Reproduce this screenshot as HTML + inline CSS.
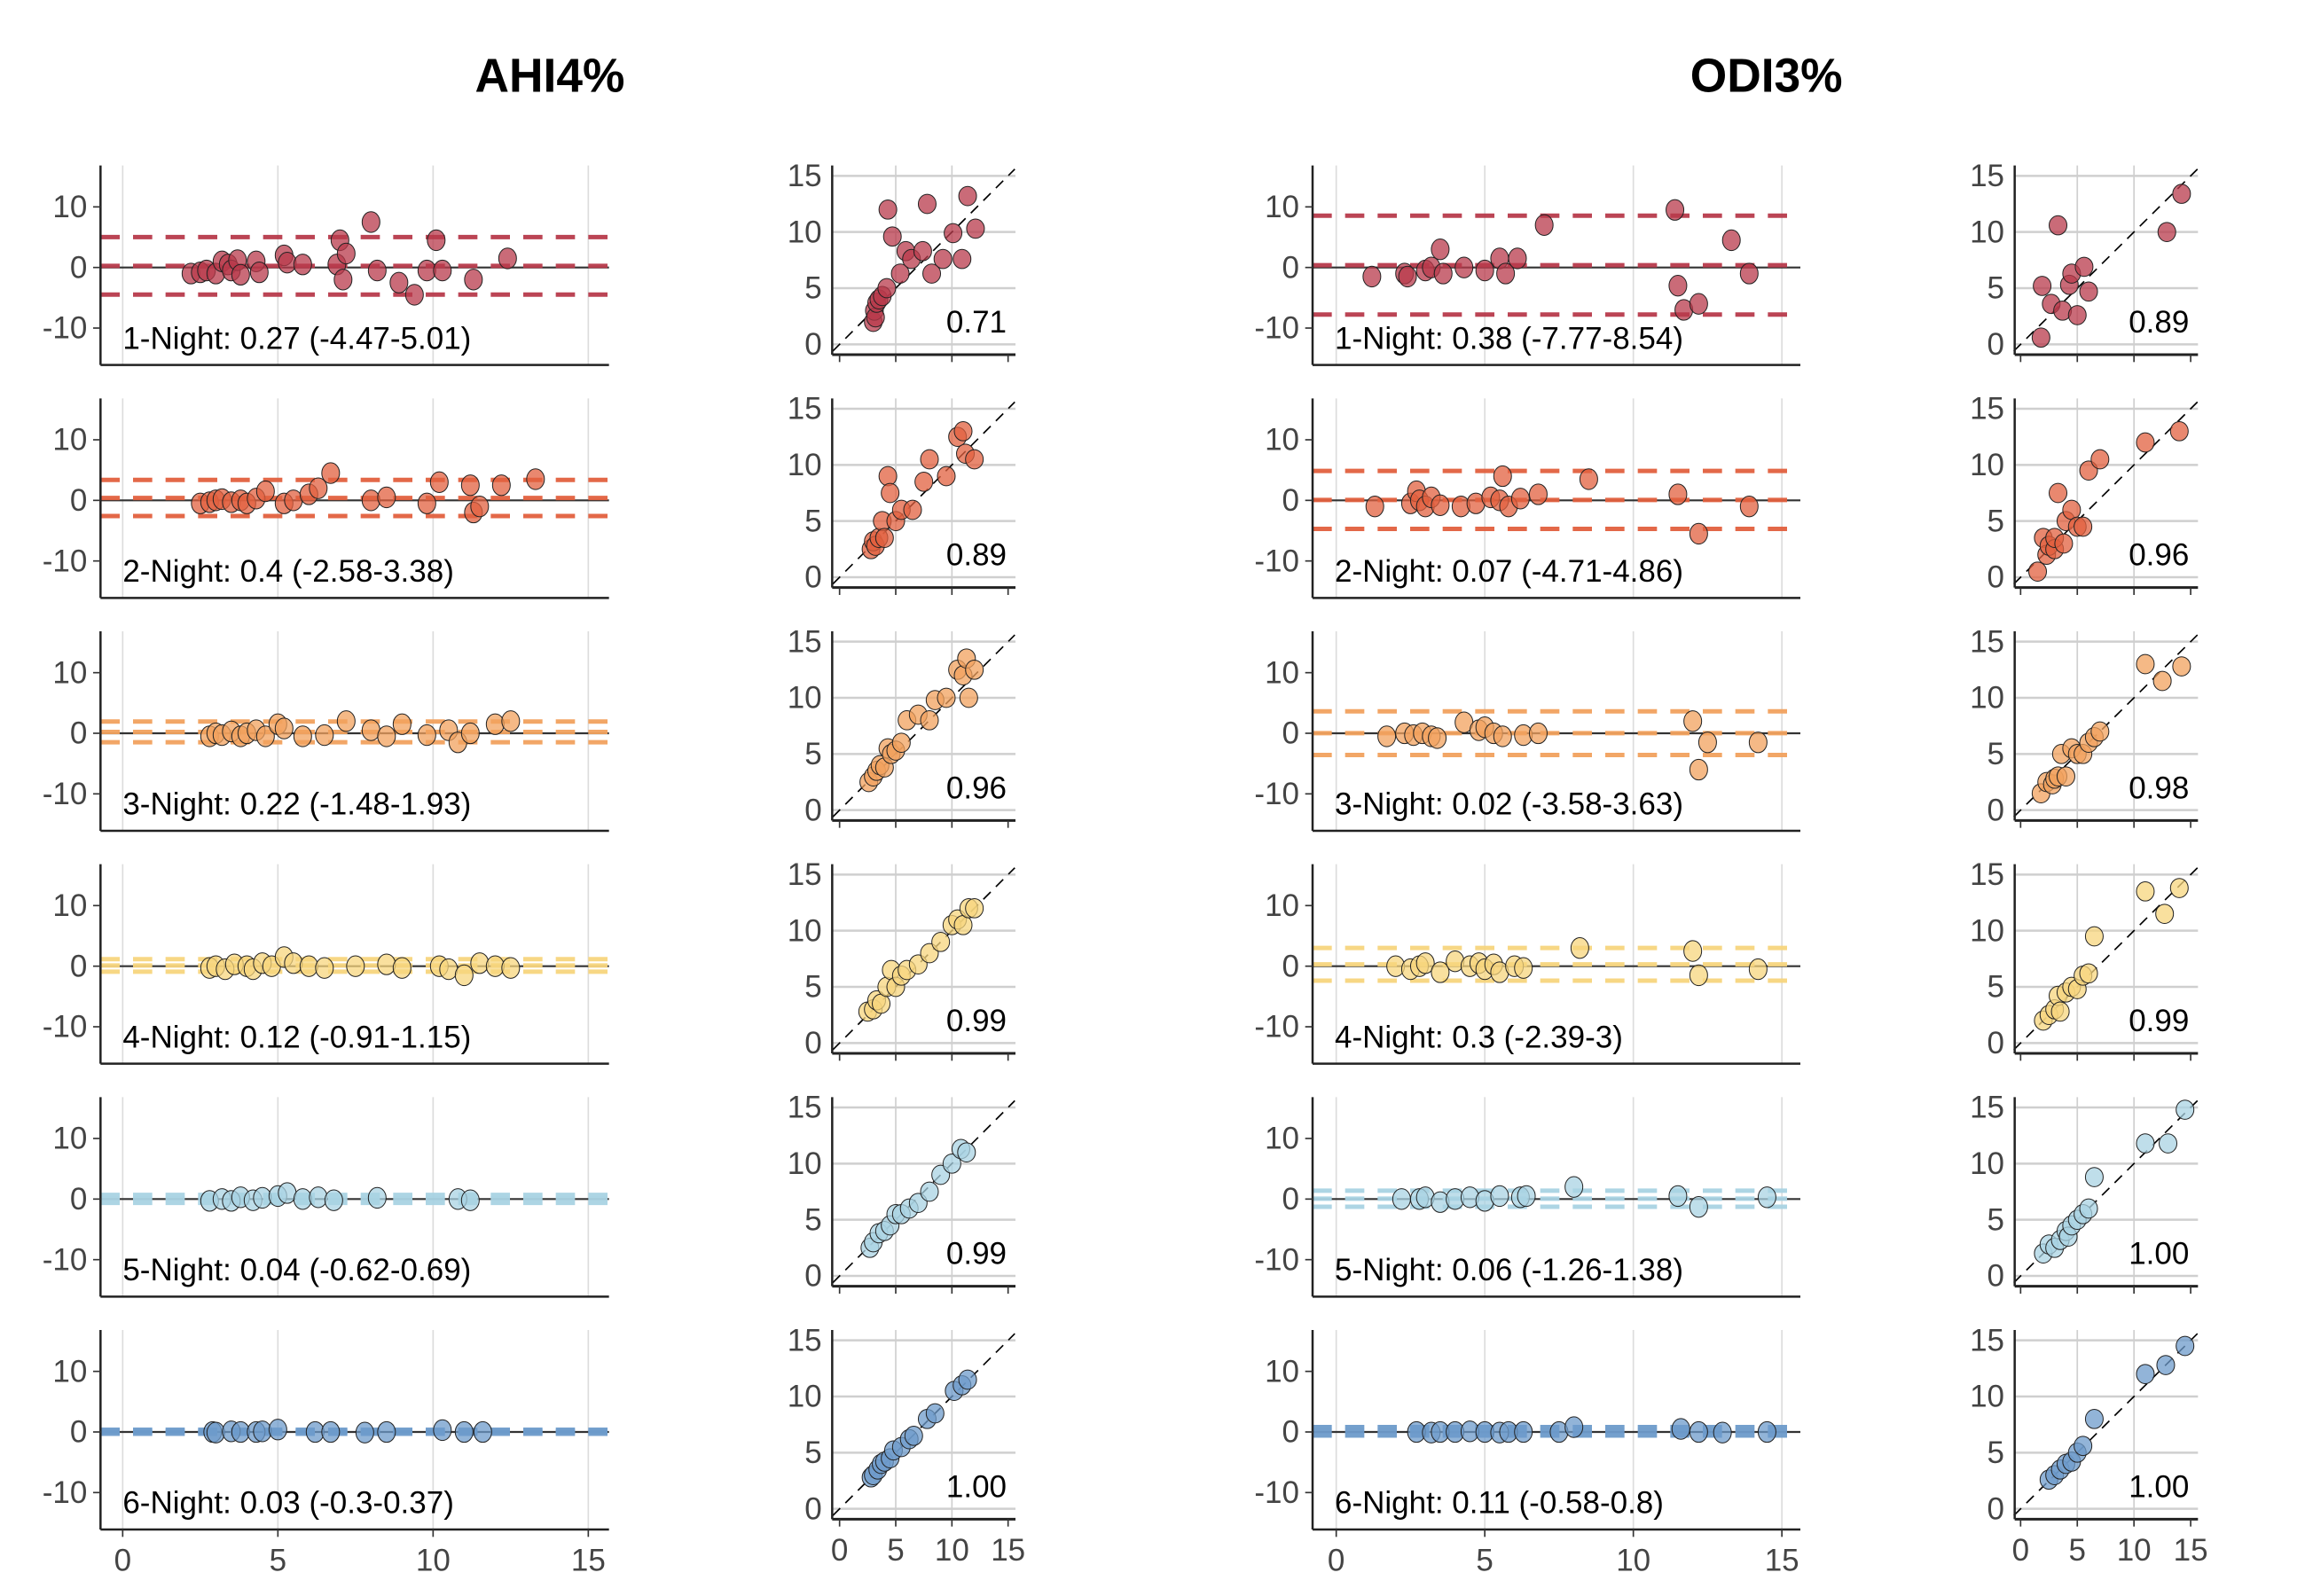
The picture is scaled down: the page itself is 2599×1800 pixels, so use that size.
<!DOCTYPE html>
<html><head><meta charset="utf-8"><style>
html,body{margin:0;padding:0;background:#fff;}
svg{display:block;font-family:"Liberation Sans",Arial,sans-serif;}
</style></head><body>
<svg id="chart" width="2599" height="1800" viewBox="0 0 1559.4 1080" xmlns="http://www.w3.org/2000/svg">
<text x="372" y="62" text-anchor="middle" font-size="32" font-weight="bold">AHI4%</text>
<text x="1195" y="62" text-anchor="middle" font-size="32" font-weight="bold">ODI3%</text>
<g id="plots"></g>
</svg>
<script>
const nightLabels = ["1-Night","2-Night","3-Night","4-Night","5-Night","6-Night"];
const rowColors = ["#b83a4b","#e2603f","#f2a25e","#f7d57e","#a9d3e3","#6d9bcb"];
const ahiMean = [0.27,0.4,0.22,0.12,0.04,0.03];
const ahiLo = [-4.47,-2.58,-1.48,-0.91,-0.62,-0.3];
const ahiHi = [5.01,3.38,1.93,1.15,0.69,0.37];
const odiMean = [0.38,0.07,0.02,0.3,0.06,0.11];
const odiLo = [-7.77,-4.71,-3.58,-2.39,-1.26,-0.58];
const odiHi = [8.54,4.86,3.63,3,1.38,0.8];
const ahiCorr = ["0.71","0.89","0.96","0.99","0.99","1.00"];
const odiCorr = ["0.89","0.96","0.98","0.99","1.00","1.00"];
const ahiBaX = [
 [2.2,2.5,2.7,3,3.2,3.4,3.5,3.7,3.8,4.3,4.4,5.2,5.3,5.8,6.9,7,7.2,7.1,8,8.2,8.9,9.4,9.8,10.1,10.3,11.3,12.4],
 [2.5,2.8,3,3.2,3.5,3.8,4,4.3,4.6,5.2,5.5,6,6.3,6.7,8,8.5,9.8,10.2,11.2,11.3,11.5,12.2,13.3],
 [2.8,3,3.2,3.5,3.8,4,4.3,4.6,5,5.2,5.8,6.5,7.2,8,8.5,9,9.8,10.5,10.8,11.2,12,12.5],
 [2.8,3,3.3,3.6,4,4.2,4.5,4.8,5.2,5.5,6,6.5,7.5,8.5,9,10.2,10.5,11,11.5,12,12.5],
 [2.8,3.2,3.5,3.8,4.2,4.5,5,5.3,5.8,6.3,6.8,8.2,10.8,11.2],
 [2.9,3,3.5,3.8,4.3,4.5,5,6.2,6.7,7.8,8.5,10.3,11,11.6]];
const ahiBaY = [
 [-1,-0.8,-0.5,-1,1,0.5,-0.5,1.2,-1.2,1,-0.8,2,0.8,0.5,0.5,4.5,2.3,-2,7.5,-0.5,-2.5,-4.5,-0.5,4.5,-0.5,-2,1.5],
 [-0.5,-0.3,0,0.2,-0.3,0,-0.5,0.3,1.5,-0.5,0,1,2,4.5,0,0.5,-0.5,3,2.5,-2,-1,2.5,3.5],
 [-0.5,0,-0.3,0.3,-0.5,0,0.5,-0.5,1.5,0.8,-0.5,-0.3,2,0.5,-0.5,1.5,-0.3,0.5,-1.5,0,1.5,2],
 [-0.3,0,-0.5,0.3,0,-0.5,0.5,0,1.5,0.5,0,-0.3,0,0.3,-0.3,0,-0.5,-1.5,0.5,0,-0.3],
 [-0.3,0,-0.3,0.3,-0.2,0.2,0.5,1,0,0.3,-0.2,0.2,0,-0.2],
 [0,-0.1,0.1,0,0,0.1,0.4,0,0,-0.1,0,0.3,0,0]];
const ahiScX = [
 [3.0,3.1,3.2,3.3,3.5,3.8,4.2,4.3,4.7,5.4,5.9,6.4,7.4,7.8,8.2,9.2,10.1,10.9,11.4,12.1],
 [2.8,3,3.2,3.5,3.8,4,4.3,4.5,5,5.5,6.5,7.5,8,9.5,10.5,11,11.2,12],
 [2.6,3,3.3,3.6,4,4.3,4.6,5,5.5,6,7,8,8.5,9.5,10.5,11,11.3,11.5,12],
 [2.5,3,3.3,3.7,4.2,4.6,5,5.5,6,7,8,9,10,10.5,11,11.5,12],
 [2.7,3,3.5,4,4.5,5,5.5,6.2,7,8,9,10,10.8,11.3],
 [2.8,3,3.4,3.7,4,4.5,4.8,5.5,6.2,6.6,7.8,8.5,10.2,10.9,11.4]];
const ahiScY = [
 [2.0,3.0,2.4,3.7,4.0,4.3,5,12,9.6,6.3,8.3,7.6,8.3,12.5,6.3,7.6,9.9,7.6,13.2,10.3],
 [2.5,3.2,2.8,3.5,5,3.5,9,7.5,5,6,6,8.5,10.5,9,12.5,13,11,10.5],
 [2.5,3,3.5,4,3.8,5.5,5,5.3,6,8,8.5,8,9.8,10,12.5,12,13.5,10,12.5],
 [2.8,3,3.8,3.5,5,6.5,5,6,6.5,7,8,9,10.5,11,10.5,12,12],
 [2.5,3,3.8,4,4.5,5.5,5.5,6,6.5,7.5,9,10,11.3,11],
 [2.8,3,3.5,4,4.2,4.5,5.2,5.5,6.2,6.5,8,8.5,10.5,11,11.5]];
const odiBaX = [
 [1.2,2.3,2.4,3.0,3.2,3.5,3.6,4.3,5.0,5.5,5.7,6.1,7.0,11.4,11.5,11.7,12.2,13.3,13.9],
 [1.3,2.5,2.7,2.8,3,3.2,3.5,4.2,4.7,5.2,5.5,5.6,5.8,6.2,6.8,8.5,11.5,12.2,13.9],
 [1.7,2.3,2.6,2.9,3.2,3.4,4.3,4.8,5,5.3,5.6,6.3,6.8,12,12.2,12.5,14.2],
 [2,2.5,2.8,3,3.5,4,4.5,4.8,5,5.3,5.5,6,6.3,8.2,12,12.2,14.2],
 [2.2,2.8,3,3.5,4,4.5,5,5.5,6.2,6.4,8,11.5,12.2,14.5],
 [2.7,3.2,3.5,4,4.5,5,5.5,5.8,6.3,7.5,8,11.6,12.2,13,14.5]];
const odiBaY = [
 [-1.5,-1,-1.5,-0.5,0,3,-1,0,-0.5,1.5,-1,1.5,7,9.5,-3,-7,-6,4.5,-1],
 [-1,-0.5,1.5,0,-1,0.5,-0.8,-1,-0.5,0.5,0,4,-1,0.3,1,3.5,1,-5.5,-1],
 [-0.5,0,-0.3,0,-0.5,-0.8,1.8,0.5,1,0,-0.5,-0.3,0,2,-6,-1.5,-1.5],
 [0,-0.5,0,0.5,-1,0.8,0,0.5,-0.5,0.3,-1,0,-0.3,3,2.5,-1.5,-0.5],
 [0,0,0.3,-0.5,0,0.3,-0.3,0.5,0.3,0.5,2,0.5,-1.3,0.3],
 [0,-0.1,0,0,0.1,0,-0.1,0,0,0,0.8,0.5,0,-0.1,0]];
const odiScX = [
 [1.9,1.8,2.7,3.3,3.7,4.3,4.5,5.0,5.6,6.0,12.9,14.2],
 [1.5,2,2.3,2.5,3,3,3.3,3.8,4,4.5,5,5.5,6,7,11,14],
 [1.8,2.3,2.8,3,3.3,3.6,4,4.5,5,5.5,6,6.5,7,11,12.5,14.2],
 [2,2.5,3,3.3,3.5,4,4.5,5,5.5,6,6.5,11,12.7,14],
 [2,2.5,3,3.5,4,4.2,4.5,5,5.5,6,6.5,11,13,14.5],
 [2.5,3,3.5,4,4.5,5,5.5,6.5,11,12.8,14.5]];
const odiScY = [
 [5.2,0.6,3.6,10.6,3.0,5.3,6.3,2.6,6.9,4.7,10,13.4],
 [0.5,3.5,2,2.8,2.5,3.5,7.5,3,5,6,4.5,4.5,9.5,10.5,12,13],
 [1.5,2.5,2.3,2.8,3,5,3,5.5,5,5,6,6.5,7,13,11.5,12.8],
 [2,2.5,3,4.2,2.8,4.5,5,4.8,6,6.2,9.5,13.5,11.5,13.8],
 [2,2.8,2.5,3.2,4,3.5,4.5,5,5.5,6,8.8,11.8,11.8,14.8],
 [2.6,3,3.5,4,4.2,5,5.6,8,12,12.8,14.5]];

const NS="http://www.w3.org/2000/svg";
const root=document.getElementById('plots');
function mk(tag,attrs,parent,txt){const e=document.createElementNS(NS,tag);for(const k in attrs)e.setAttribute(k,attrs[k]);if(txt!==undefined)e.textContent=txt;(parent||root).appendChild(e);return e;}
const ROWH=157.6;

function baPanel(g,r,x0,x1,xs0,xpu,mean,lo,hi,xs,ys,label,color,last,pre){
  const top=112+r*ROWH, bot=247+r*ROWH, zero=181+r*ROWH;
  const sx=v=>xs0+v*xpu, sy=v=>zero-v*4.1;
  [0,5,10,15].forEach(v=>{const l=mk('line',{x1:sx(v),x2:sx(v),y1:top,y2:bot,stroke:'#dcdcdc','stroke-width':1},g);
    });
  mk('line',{x1:x0,x2:x1,y1:sy(0),y2:sy(0),stroke:'#333','stroke-width':1.3},g);
  [[mean,'mean-line'],[lo,'lower-loa-line'],[hi,'upper-loa-line']].forEach(([v,n])=>{
    const l=mk('line',{x1:x0,x2:x1,y1:sy(v),y2:sy(v),stroke:color,'stroke-width':3,'stroke-dasharray':'13 9',opacity:0.95},g);
    });
  xs.forEach((x,i)=>{const c=mk('ellipse',{cx:sx(x),cy:sy(ys[i]),rx:6,ry:7,fill:color,'fill-opacity':0.75,stroke:'#222','stroke-width':0.6},g);
    });
  mk('line',{x1:x0,x2:x0,y1:top,y2:bot,stroke:'#222','stroke-width':1.5},g);
  mk('line',{x1:x0,x2:x1,y1:bot,y2:bot,stroke:'#222','stroke-width':1.5},g);
  [10,0,-10].forEach(v=>{mk('line',{x1:x0-5,x2:x0,y1:sy(v),y2:sy(v),stroke:'#333'},g);
    const t=mk('text',{x:x0-9,y:sy(v)+7,'text-anchor':'end','font-size':21,fill:'#444'},g,String(v));
    });
  if(last){[0,5,10,15].forEach(v=>{mk('line',{x1:sx(v),x2:sx(v),y1:bot,y2:bot+5,stroke:'#333'},g);
    const t=mk('text',{x:sx(v),y:bot+28,'text-anchor':'middle','font-size':21,fill:'#444'},g,String(v));
    });}
  const t=mk('text',{x:x0+15,y:top+124,'font-size':21,fill:'#000'},g,label);
  
}
function scPanel(g,r,x0,x1,xs0,xpu,xs,ys,corr,color,last,pre){
  const top=112+r*ROWH, bot=240+r*ROWH, zero=233+r*ROWH;
  const sx=v=>xs0+v*xpu, sy=v=>zero-v*7.6;
  [0,5,10,15].forEach(v=>{mk('line',{x1:x0,x2:x1,y1:sy(v),y2:sy(v),stroke:'#cfcfcf','stroke-width':1.5},g);});
  [5,10].forEach(v=>{mk('line',{x1:sx(v),x2:sx(v),y1:top,y2:bot,stroke:'#cfcfcf','stroke-width':1},g);});
  const d=mk('line',{x1:sx(-0.6),y1:sy(-0.6),x2:sx(15.6),y2:sy(15.6),stroke:'#000','stroke-width':1,'stroke-dasharray':'7 5'},g);
  
  xs.forEach((x,i)=>{const c=mk('ellipse',{cx:sx(x),cy:sy(ys[i]),rx:6,ry:6.5,fill:color,'fill-opacity':0.75,stroke:'#222','stroke-width':0.6},g);
    });
  mk('line',{x1:x0,x2:x0,y1:top,y2:bot,stroke:'#222','stroke-width':1.5},g);
  mk('line',{x1:x0,x2:x1,y1:bot,y2:bot,stroke:'#222','stroke-width':1.8},g);
  [0,5,10,15].forEach(v=>{const t=mk('text',{x:x0-7,y:sy(v)+7,'text-anchor':'end','font-size':21,fill:'#444'},g,String(v));
    
    mk('line',{x1:sx(v),x2:sx(v),y1:bot,y2:bot+5,stroke:'#333'},g);});
  if(last){[0,5,10,15].forEach(v=>{const t=mk('text',{x:sx(v),y:bot+28,'text-anchor':'middle','font-size':21,fill:'#444'},g,String(v));
    });}
  const t=mk('text',{x:x1-6,y:top+113,'text-anchor':'end','font-size':21,fill:'#000'},g,corr);
  
}
for(let r=0;r<6;r++){
  const last=r===5;
  let g=mk('g',{});
  
  baPanel(g,r,68,412,83,21,ahiMean[r],ahiLo[r],ahiHi[r],ahiBaX[r],ahiBaY[r],
    nightLabels[r]+': '+ahiMean[r]+' ('+ahiLo[r]+'-'+ahiHi[r]+')',rowColors[r],last,'ahi-ba');
  g=mk('g',{});
  
  scPanel(g,r,563,687,568,7.6,ahiScX[r],ahiScY[r],ahiCorr[r],rowColors[r],last,'ahi-sc');
  g=mk('g',{});
  
  baPanel(g,r,888,1218,904,20.1,odiMean[r],odiLo[r],odiHi[r],odiBaX[r],odiBaY[r],
    nightLabels[r]+': '+odiMean[r]+' ('+odiLo[r]+'-'+odiHi[r]+')',rowColors[r],last,'odi-ba');
  g=mk('g',{});
  
  scPanel(g,r,1363,1487,1367,7.67,odiScX[r],odiScY[r],odiCorr[r],rowColors[r],last,'odi-sc');
}
</script>
</body></html>
